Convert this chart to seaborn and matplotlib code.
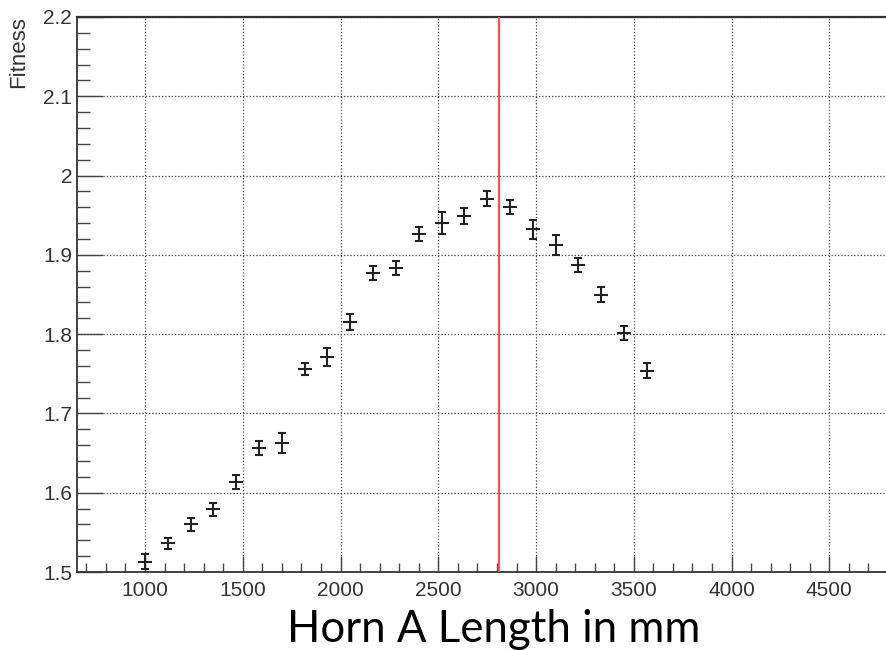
import matplotlib
matplotlib.use("Agg")
import matplotlib.pyplot as plt
import seaborn as sns
import pandas as pd
from matplotlib.ticker import MultipleLocator

# ---- data ----
horn_length = [1000, 1117, 1233, 1350, 1467, 1583, 1700, 1817, 1933, 2050, 2167, 2283,
               2400, 2517, 2633, 2750, 2867, 2983, 3100, 3217, 3333, 3450, 3567]
fitness = [1.513, 1.536, 1.560, 1.579, 1.614, 1.656, 1.663, 1.756, 1.771, 1.815, 1.877, 1.884,
           1.926, 1.940, 1.949, 1.971, 1.960, 1.932, 1.912, 1.887, 1.850, 1.801, 1.754]
fitness_err = [0.0095, 0.0074, 0.008, 0.008, 0.0088, 0.009, 0.0126, 0.0078, 0.0116, 0.010,
               0.0088, 0.0088, 0.0088, 0.0137, 0.0105, 0.009, 0.0088, 0.0116, 0.0126, 0.0088,
               0.0099, 0.009, 0.009]
chosen_length = 2810
x_ticks = [1000, 1500, 2000, 2500, 3000, 3500, 4000, 4500]
y_ticks = [1.5, 1.6, 1.7, 1.8, 1.9, 2.0, 2.1, 2.2]
y_tick_labels = ["1.5", "1.6", "1.7", "1.8", "1.9", "2", "2.1", "2.2"]

df = pd.DataFrame({"length": horn_length, "fitness": fitness, "err": fitness_err})

sns.set_theme(style="white")
plt.rcParams["font.family"] = ["Liberation Sans", "DejaVu Sans"]

W, H = 887, 650
fig = plt.figure(figsize=(W / 100, H / 100), dpi=100)
fig.patch.set_facecolor("white")
ax = fig.add_axes([77 / W, (H - 572) / H, (W - 77) / W, (572 - 17) / H])

dark = "#222222"
# horizontal bars of the points
sns.scatterplot(data=df, x="length", y="fitness", marker="_", s=90, color=dark,
                linewidth=1.5, ax=ax, zorder=4, legend=False)
# vertical error bars with caps
ax.errorbar(df["length"], df["fitness"], yerr=df["err"], fmt="none", ecolor=dark,
            elinewidth=1.5, capsize=3.2, capthick=1.5, zorder=4)

ax.axvline(chosen_length, color="#ff5050", lw=1.6, zorder=5)

ax.set_xlim(652, 4795)
ax.set_ylim(1.5, 2.2)
ax.set_xticks(x_ticks)
ax.set_xticklabels([str(v) for v in x_ticks])
ax.set_yticks(y_ticks)
ax.set_yticklabels(y_tick_labels)
ax.xaxis.set_minor_locator(MultipleLocator(100))
ax.yaxis.set_minor_locator(MultipleLocator(0.02))

ax.grid(True, which="major", color="#444444", linestyle=(0, (1.0, 1.6)), linewidth=0.9)
ax.set_axisbelow(True)

ax.tick_params(axis="x", which="major", direction="in", length=11.5, width=1.0,
               color="#444444", labelsize=15, labelcolor="#333333", pad=6.5,
               top=False, bottom=True)
ax.tick_params(axis="x", which="minor", direction="in", length=6.5, width=1.0,
               color="#444444", top=False, bottom=True)
ax.tick_params(axis="y", which="major", direction="in", length=19, width=1.0,
               color="#444444", labelsize=15, labelcolor="#333333", pad=3.6,
               left=True, right=False)
ax.tick_params(axis="y", which="minor", direction="in", length=9.5, width=1.0,
               color="#444444", left=True, right=False)

for side in ["left", "bottom", "top"]:
    ax.spines[side].set_visible(True)
    ax.spines[side].set_color("#333333")
ax.spines["left"].set_linewidth(1.3)
ax.spines["bottom"].set_linewidth(1.3)
ax.spines["top"].set_linewidth(1.6)
ax.spines["right"].set_visible(False)

ax.set_xlabel("")
ax.set_ylabel("")

fig.text(19 / W, 1 - 16 / H, "Fitness", rotation=90, ha="center", va="top",
         fontsize=16, color="#333333")
fig.text(494 / W, 8 / H, "Horn A Length in mm", ha="center", va="baseline",
         fontsize=31.5, color="black", family=["Lato", "DejaVu Sans"])

fig.savefig("out.png", dpi=100, facecolor="white")
